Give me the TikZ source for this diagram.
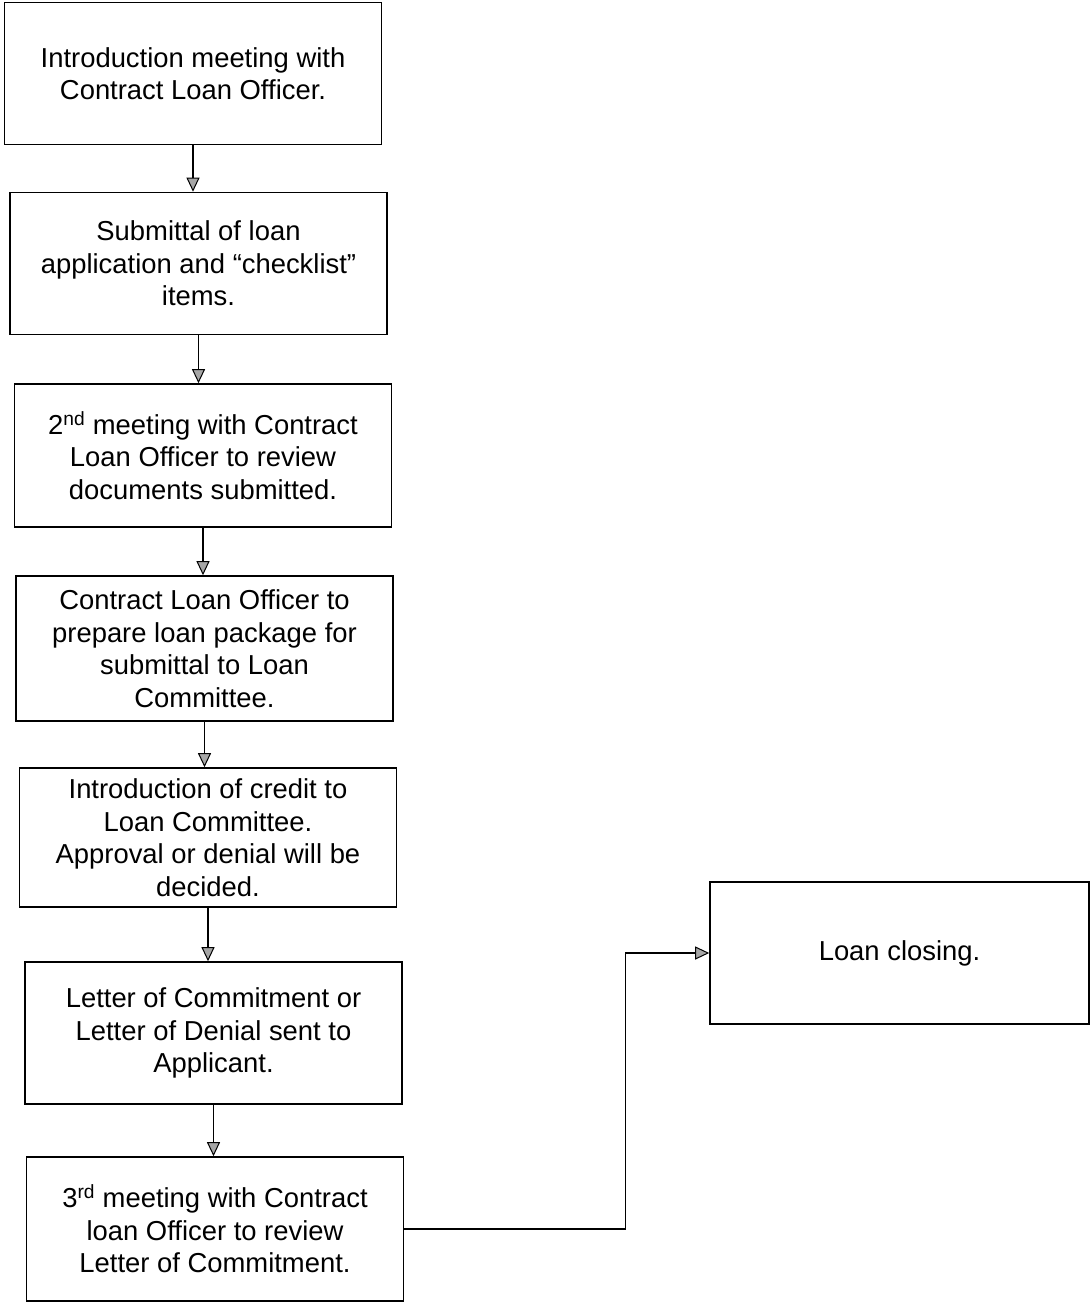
\documentclass[tikz,border=0pt]{standalone}
\usepackage{fontspec}
\setmainfont{Liberation Sans}
\usetikzlibrary{arrows.meta}

\begin{document}
\begin{tikzpicture}[x = 1pt, y = -1pt, line width = 1.6pt,
    box/.style = {draw, rectangle, align = center, inner sep = 0pt, minimum width = 377pt, minimum height = 142pt, font = \fontsize{27.4}{32.5}\selectfont},
    flow/.style = {-{Triangle[length = 14pt, width = 13pt, fill = gray!70, line width = 1pt]}}]
      \useasboundingbox (0, 0) rectangle (1091, 1305);

      \node[box] (b1) at (193, 73.5) {Introduction meeting with\\Contract Loan Officer.};
      \node[box] (b2) at (198.5, 263.5) {Submittal of loan\\application and “checklist”\\items.};
      \node[box, minimum height = 143pt] (b3) at (203, 455.5) {2\textsuperscript{nd} meeting with Contract\\Loan Officer to review\\documents submitted.};
      \node[box, minimum height = 145pt] (b4) at (204.5, 648.5) {Contract Loan Officer to\\prepare loan package for\\submittal to Loan\\Committee.};
      \node[box, minimum height = 139pt] (b5) at (208, 837.5) {Introduction of credit to\\Loan Committee.\\Approval or denial will be\\decided.};
      \node[box] (b6) at (213.5, 1033) {Letter of Commitment or\\Letter of Denial sent to\\Applicant.};
      \node[box, minimum height = 144pt] (b7) at (215, 1229) {3\textsuperscript{rd} meeting with Contract\\loan Officer to review\\Letter of Commitment.};
      \node[box, minimum width = 379pt] (b8) at (899.5, 953) {\raisebox{5pt}{Loan closing.}};

      \foreach \a/\b in {b1/b2, b2/b3, b3/b4, b4/b5, b5/b6, b6/b7}
        \draw[flow] (\a.south) -- (\a.south |- \b.north);

      \draw[flow] (b7.east) -- ++(221, 0) |- (b8.west);

    \end{tikzpicture}
\end{document}
